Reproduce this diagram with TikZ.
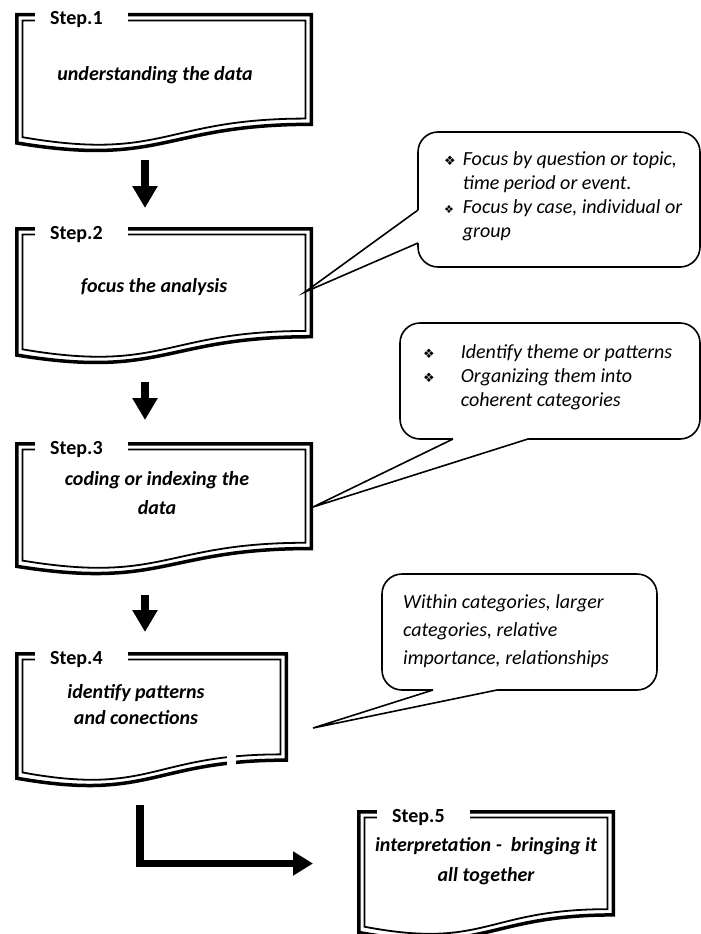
\documentclass[tikz,border=0pt]{standalone}
\usepackage{fontspec}
\setmainfont{Carlito}
\newfontfamily\dejavu{DejaVu Sans}
\usetikzlibrary{arrows.meta}
\tikzset{
  docouter/.style={line width=3.5pt, line join=miter},
  docinner/.style={line width=1.8pt, line join=miter},
  steplabel/.style={font=\fontsize{20}{23}\selectfont\bfseries, inner sep=0pt},
  maintext/.style={font=\fontsize{20}{#1}\selectfont\bfseries\itshape, align=center, inner sep=0pt},
  maintext/.default=26,
  callbox/.style={line width=1.6pt, rounded corners=20pt, fill=white},
  callline/.style={line width=1.6pt, line join=miter},
  calltext/.style={font=\fontsize{20}{#1}\selectfont\itshape, align=left, inner sep=0pt, anchor=north west}
}
\newcommand{\mydocshape}[6]{% L T R H name label
  \pgfmathsetmacro\dM{(#1+#3)/2}%
  \pgfmathsetmacro\dA{#2+0.802*#4}%
  \pgfmathsetmacro\dB{#2+1.1075*#4}%
  \pgfmathsetmacro\dC{#2+0.934*#4}%
  \draw[docouter] ({#1+1.75},{#2+1.75}) -- ({#3-1.75},{#2+1.75}) -- ({#3-1.75},{\dA-1.75})
     .. controls (\dM,{\dA-1.75}) and (\dM,{\dB-1.75}) .. ({#1+1.75},{\dC-1.75}) -- cycle;
  \draw[docinner] ({#1+7.5},{#2+7.5}) -- ({#3-7.5},{#2+7.5}) -- ({#3-7.5},{\dA-7.5})
     .. controls (\dM,{\dA-7.5}) and (\dM,{\dB-7.5}) .. ({#1+7.5},{\dC-7.5}) -- cycle;
  \fill[white] ({#1+20},{#2-3}) rectangle ({#1+113},{#2+11});
  \node[steplabel, anchor=base west] (#5) at ({#1+35},{#2+12}) {#6};
}
\begin{document}
\begin{tikzpicture}[x=1pt, y=-1pt]
\useasboundingbox[fill=white] (0,0) rectangle (701,934);

% document boxes
\mydocshape{15}{13}{313}{141}{s1}{Step.1}
\mydocshape{15}{227}{313}{139}{s2}{Step.2}
\mydocshape{15}{442}{313}{135}{s3}{Step.3}
\mydocshape{15}{652}{288}{137}{s4}{Step.4}
\mydocshape{357}{810}{615}{133}{s5}{Step.5}
% small break in the bottom line of step 4
\fill[white] (227,748) rectangle (236,776);

% main texts
\node[maintext] (t1) at (155,75) {understanding the data};
\node[maintext] (t2) at (154,287) {focus the analysis};
\node[maintext=29] (t3) at (157,493) {coding or indexing the\\data};
\node[maintext=26] (t4) at (136,705) {identify patterns\\and conections};
\node[maintext=30] (t5) at (486,861) {interpretation -\ \ bringing it\\all together};

% block arrows
\coordinate (a1s) at (145,160);
\coordinate (a1e) at (145,208);
\coordinate (a2s) at (145,382);
\coordinate (a2e) at (145,420);
\coordinate (a3s) at (145,595);
\coordinate (a3e) at (145,632);
\draw[line width=8pt, -{Triangle[width=24pt,length=22pt]}] (a1s) -- (a1e);
\draw[line width=8pt, -{Triangle[width=24pt,length=22pt]}] (a2s) -- (a2e);
\draw[line width=8pt, -{Triangle[width=24pt,length=22pt]}] (a3s) -- (a3e);
\coordinate (a4s) at (140,805);
\coordinate (a4c) at (140,863.5);
\coordinate (a4e) at (313,863.5);
\draw[line width=7.5pt, line join=miter, -{Triangle[width=23pt,length=20pt]}] (a4s) -- (a4c) -- (a4e);

% callout 1
\draw[callbox] (418,132) rectangle (700,267);
\fill[white] (418,210) -- (305,292) -- (418,243) -- (424,243) -- (424,210) -- cycle;
\coordinate (c1tip) at (305,292);
\draw[callline] (418,210) -- (c1tip) -- (418,243);
\node[calltext=24] (c1) at (444,148) {%
  \begin{tabular}{@{}l@{\hspace{7pt}}l@{}}
  {\dejavu\fontsize{13}{13}\selectfont ❖} & Focus by question or topic,\\
   & time period or event.\\
  {\dejavu\fontsize{11}{11}\selectfont ❖} & Focus by case, individual or\\
   & group
  \end{tabular}};

% callout 2
\draw[callbox] (400,323) rectangle (700,439);
\fill[white] (453,439) -- (313,507) -- (528,439) -- (528,433) -- (453,433) -- cycle;
\coordinate (c2tip) at (313,507);
\draw[callline] (453,439) -- (c2tip) -- (528,439);
\node[calltext=24] (c2) at (423,341) {%
  \begin{tabular}{@{}l@{\hspace{26pt}}l@{}}
  {\dejavu\fontsize{13}{13}\selectfont ❖} & Identify theme or patterns\\
  {\dejavu\fontsize{13}{13}\selectfont ❖} & Organizing them into\\
   & coherent categories
  \end{tabular}};

% callout 3
\draw[callbox] (382,574) rectangle (657,690);
\fill[white] (433,690) -- (313,728) -- (497,690) -- (497,684) -- (433,684) -- cycle;
\coordinate (c3tip) at (313,728);
\draw[callline] (433,690) -- (c3tip) -- (497,690);
\node[calltext=28] (c3) at (403,594) {Within categories, larger\\categories, relative\\importance, relationships};

\end{tikzpicture}
\end{document}
